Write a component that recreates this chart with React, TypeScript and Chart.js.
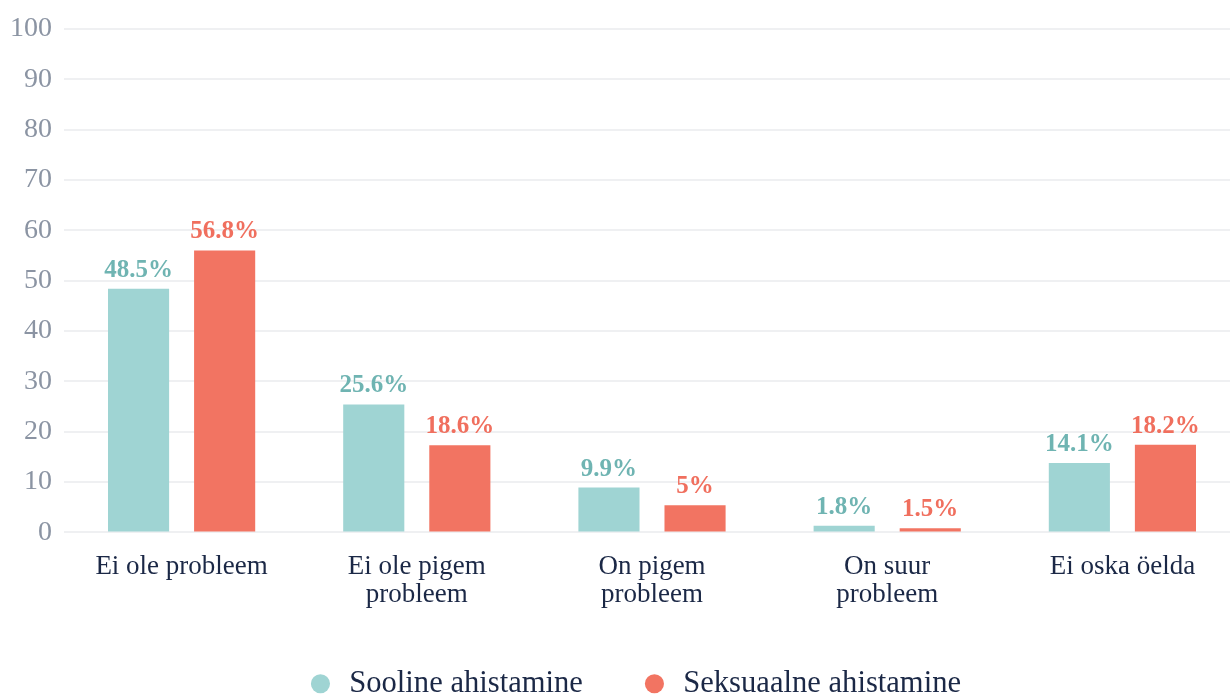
import React, { useEffect, useRef } from "react";
import { Chart, registerables } from "chart.js";

Chart.register(...registerables);

const categories: string[][] = [
  ["Ei ole probleem"],
  ["Ei ole pigem", "probleem"],
  ["On pigem", "probleem"],
  ["On suur", "probleem"],
  ["Ei oska öelda"],
];
const seriesNames = ["Sooline ahistamine", "Seksuaalne ahistamine"];
const soolineValues = [48.4, 25.4, 8.9, 1.3, 13.8];
const seksuaalneValues = [56.0, 17.3, 5.4, 0.8, 17.4];
const soolineLabels = ["48.5%", "25.6%", "9.9%", "1.8%", "14.1%"];
const seksuaalneLabels = ["56.8%", "18.6%", "5%", "1.5%", "18.2%"];
const yMin = 0;
const yMax = 100;
const yStep = 10;

const FONT = '"Liberation Serif", "Times New Roman", serif';

const valueLabelPlugin = {
  id: "valueLabels",
  afterDatasetsDraw(chart: any) {
    const ctx = chart.ctx;
    chart.data.datasets.forEach((ds: any, i: number) => {
      const meta = chart.getDatasetMeta(i);
      meta.data.forEach((bar: any, j: number) => {
        ctx.save();
        ctx.font = `bold 25px ${FONT}`;
        ctx.fillStyle = ds.labelColor;
        ctx.textAlign = "center";
        ctx.textBaseline = "alphabetic";
        ctx.fillText(ds.valueLabels[j], bar.x, bar.y - 12);
        ctx.restore();
      });
    });
  },
};

const legendShiftPlugin = {
  id: "legendShift",
  afterLayout(chart: any) {
    if (chart.legend) {
      chart.legend.left += 28;
    }
  },
};

export default function App() {
  const canvasRef = useRef<HTMLCanvasElement | null>(null);

  useEffect(() => {
    if (!canvasRef.current) return;
    const chart = new Chart(canvasRef.current, {
      type: "bar",
      data: {
        labels: categories,
        datasets: [
          {
            label: seriesNames[0],
            data: soolineValues,
            backgroundColor: "#9fd4d3",
            borderWidth: 0,
            categoryPercentage: 0.732,
            barPercentage: 0.71,
            valueLabels: soolineLabels,
            labelColor: "#6fb4b2",
          } as any,
          {
            label: seriesNames[1],
            data: seksuaalneValues,
            backgroundColor: "#f27462",
            borderWidth: 0,
            categoryPercentage: 0.732,
            barPercentage: 0.71,
            valueLabels: seksuaalneLabels,
            labelColor: "#f06f5e",
          } as any,
        ],
      },
      options: {
        responsive: false,
        animation: false,
        layout: { padding: { top: 10, right: 30, left: 0, bottom: 0 } },
        plugins: {
          tooltip: { enabled: false },
          legend: {
            position: "bottom",
            labels: {
              usePointStyle: true,
              pointStyle: "circle",
              boxWidth: 27,
              boxHeight: 13.5,
              padding: 58,
              color: "#1b2846",
              font: { family: FONT, size: 30.6 },
            },
          },
        },
        scales: {
          x: {
            grid: { display: false },
            border: { display: false },
            ticks: {
              color: "#1b2846",
              font: { family: FONT, size: 27, lineHeight: 1.05 },
              padding: 12,
              maxRotation: 0,
              autoSkip: false,
            },
            afterFit: (scale: any) => {
              scale.height = 78;
            },
          },
          y: {
            min: yMin,
            max: yMax,
            border: { display: false },
            grid: { color: "#eff0f2", lineWidth: 2, drawTicks: false },
            ticks: {
              stepSize: yStep,
              color: "#8b94a3",
              font: { family: FONT, size: 28 },
              padding: 12,
            },
            afterFit: (scale: any) => {
              scale.width = 64;
            },
          },
        },
      },
      plugins: [valueLabelPlugin, legendShiftPlugin],
    });
    return () => chart.destroy();
  }, []);

  return (
    <div
      style={{
        position: "fixed",
        left: 0,
        top: 0,
        width: 1230,
        height: 695,
        overflow: "hidden",
        background: "#ffffff",
      }}
    >
      <canvas ref={canvasRef} width={1270} height={709} style={{ display: "block" }} />
    </div>
  );
}
